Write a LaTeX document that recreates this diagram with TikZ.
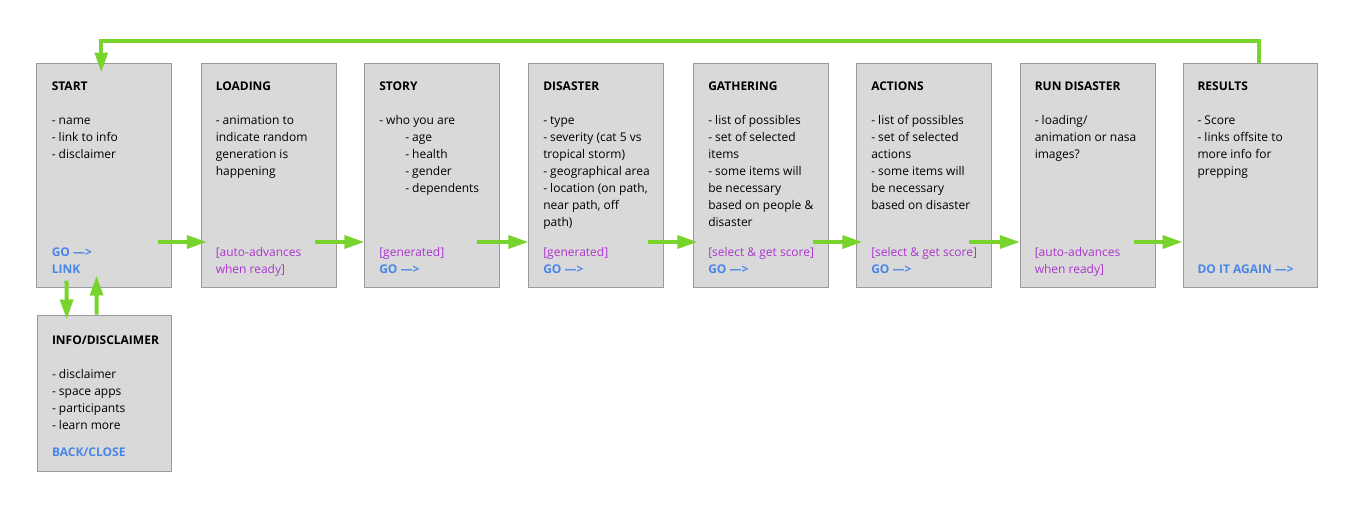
\documentclass[tikz,border=0pt]{standalone}
\usepackage{fontspec}
\setmainfont{Open Sans}
\usetikzlibrary{arrows.meta,calc}
\definecolor{boxfill}{HTML}{D9D9D9}
\definecolor{boxline}{HTML}{9A9A9A}
\definecolor{linkblue}{HTML}{4A86E8}
\definecolor{notepurple}{RGB}{172,52,208}
\definecolor{flowgreen}{RGB}{120,212,44}
\newdimen\pxu \pxu=0.75pt
\newcommand{\lnk}[1]{\textcolor{linkblue}{\bfseries #1}}
\newcommand{\purp}[1]{\textcolor{notepurple}{#1}}
\begin{document}
\begin{tikzpicture}[x=0.75pt,y=-0.75pt,
  screen/.style={draw=boxline, fill=boxfill, line width=0.75pt, minimum width=100.9pt, minimum height=168pt, inner sep=0pt},
  txt/.style={font=\fontsize{9pt}{12.75pt}\selectfont, align=left, inner sep=0pt, anchor=north west, text=black},
  foot/.style={txt, anchor=south west},
  flow/.style={draw=flowgreen, line width=3pt, -{Triangle[length=15pt,width=9.5pt]}},
]
\fill[white] (0,0) rectangle (1370,504);
\useasboundingbox (0,0) rectangle (1370,504);

% screens
\node[screen] (start) at (104.25,175) {};
\node[screen] (load)  at (268.75,175) {};
\node[screen] (story) at (432.25,175) {};
\node[screen] (dis)   at (596.25,175) {};
\node[screen] (gath)  at (761.25,175) {};
\node[screen] (act)   at (924.25,175) {};
\node[screen] (run)   at (1087.75,175) {};
\node[screen] (res)   at (1250.5,175) {};
\node[screen, minimum height=117pt] (info) at (104.5,393) {};

% titles and bodies
\node[txt] (startT) at ([shift={(15,16)}]start.north west) {\strut\textbf{START}\\[17\pxu]- name\\- link to info\\- disclaimer};
\node[txt] (loadT) at ([shift={(14.5,16)}]load.north west) {\strut\textbf{LOADING}\\[17\pxu]- animation to\\indicate random\\generation is\\happening};
\node[txt] (storyT) at ([shift={(14.5,16)}]story.north west) {\strut\textbf{STORY}\\[17\pxu]- who you are\\\hspace*{26\pxu}- age\\\hspace*{26\pxu}- health\\\hspace*{26\pxu}- gender\\\hspace*{26\pxu}- dependents};
\node[txt] (disT) at ([shift={(14.5,16)}]dis.north west) {\strut\textbf{DISASTER}\\[17\pxu]- type\\- severity (cat 5 vs\\tropical storm)\\- geographical area\\- location (on path,\\near path, off\\path)};
\node[txt] (gathT) at ([shift={(14.5,16)}]gath.north west) {\strut\textbf{GATHERING}\\[17\pxu]- list of possibles\\- set of selected\\items\\- some items will\\be necessary\\based on people \&\\disaster};
\node[txt] (actT) at ([shift={(14.5,16)}]act.north west) {\strut\textbf{ACTIONS}\\[17\pxu]- list of possibles\\- set of selected\\actions\\- some items will\\be necessary\\based on disaster};
\node[txt] (runT) at ([shift={(14.5,16)}]run.north west) {\strut\textbf{RUN DISASTER}\\[17\pxu]- loading/\\animation or nasa\\images?};
\node[txt] (resT) at ([shift={(14.5,16)}]res.north west) {\strut\textbf{RESULTS}\\[17\pxu]- Score\\- links offsite to\\more info for\\prepping};
\node[txt] (infoT) at ([shift={(15,18)}]info.north west) {\strut\textbf{INFO/DISCLAIMER}\\[17\pxu]- disclaimer\\- space apps\\- participants\\- learn more};

% footers
\node[foot] (startF) at ([shift={(15,-8.5)}]start.south west) {\lnk{GO —>}\\\lnk{LINK}\strut};
\node[foot] (loadF) at ([shift={(14.5,-8.5)}]load.south west) {\purp{[auto-advances}\\\purp{when ready]}\strut};
\node[foot] (storyF) at ([shift={(14.5,-8.5)}]story.south west) {\purp{[generated]}\\\lnk{GO —>}\strut};
\node[foot] (disF) at ([shift={(14.5,-8.5)}]dis.south west) {\purp{[generated]}\\\lnk{GO —>}\strut};
\node[foot] (gathF) at ([shift={(14.5,-8.5)}]gath.south west) {\purp{[select \& get score]}\\\lnk{GO —>}\strut};
\node[foot] (actF) at ([shift={(14.5,-8.5)}]act.south west) {\purp{[select \& get score]}\\\lnk{GO —>}\strut};
\node[foot] (runF) at ([shift={(14.5,-8.5)}]run.south west) {\purp{[auto-advances}\\\purp{when ready]}\strut};
\node[foot] (resF) at ([shift={(14.5,-8.5)}]res.south west) {\lnk{DO IT AGAIN —>}\strut};
\node[foot] (infoF) at ([shift={(15,-10)}]info.south west) {\lnk{BACK/CLOSE}\strut};

% flow arrows
\draw[flow] ([shift={(-14,67)}]start.east) -- ([shift={(6,67)}]load.west);
\draw[flow] ([shift={(-22,67)}]load.east) -- ([shift={(0,67)}]story.west);
\draw[flow] ([shift={(-23,67)}]story.east) -- ([shift={(0,67)}]dis.west);
\draw[flow] ([shift={(-16,67)}]dis.east) -- ([shift={(4,67)}]gath.west);
\draw[flow] ([shift={(-16,67)}]gath.east) -- ([shift={(6,67)}]act.west);
\draw[flow] ([shift={(-23,67)}]act.east) -- ([shift={(0,67)}]run.west);
\draw[flow] ([shift={(-22,67)}]run.east) -- ([shift={(0,67)}]res.west);

% loop back
\draw[flow] ([xshift=8*0.75pt]res.north) -- ++(0,-22) -| ([shift={(-3,10)}]start.north);

% link to info and back
\draw[flow] ([shift={(30,-7)}]start.south west) -- ([shift={(30,5)}]info.north west);
\draw[flow] ([shift={(60,0)}]info.north west) -- ([shift={(60,-12)}]start.south west);
\end{tikzpicture}
\end{document}
